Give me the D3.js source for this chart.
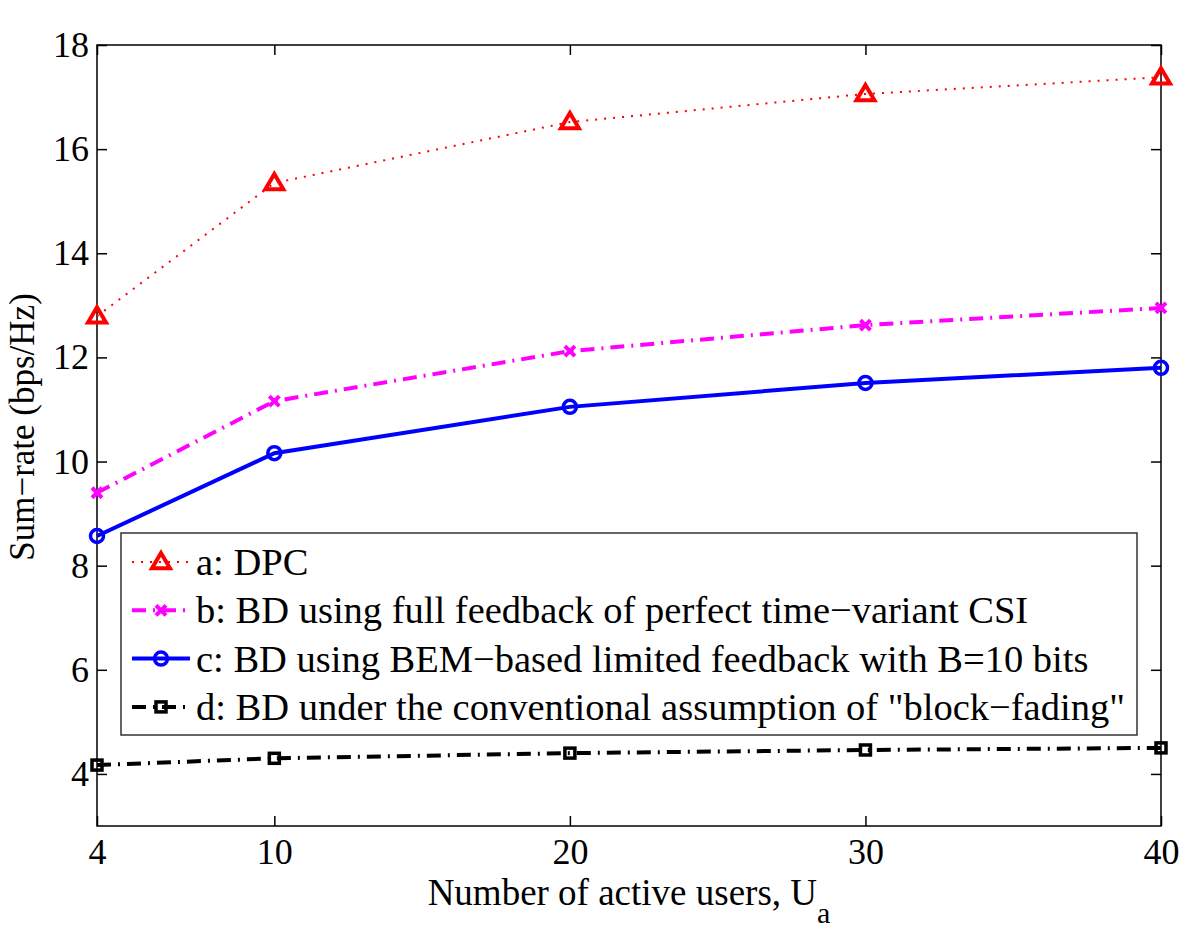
<!DOCTYPE html>
<html>
<head>
<meta charset="utf-8">
<script src="https://cdn.jsdelivr.net/npm/d3@7"></script>
<style>
  body { margin: 0; background: #fff; }
  text { font-family: "Liberation Serif", "Times New Roman", serif; fill: #000; }
</style>
</head>
<body>
<script>
const users = [4, 10, 20, 30, 40];
const dpc = [12.79, 15.35, 16.52, 17.06, 17.38];
const bdFull = [9.40, 11.16, 12.12, 12.62, 12.95];
const bdBem = [8.57, 10.16, 11.05, 11.51, 11.80];
const bdBlock = [4.17, 4.30, 4.40, 4.46, 4.50];
const xTicks = [4, 10, 20, 30, 40];
const yTicks = [4, 6, 8, 10, 12, 14, 16, 18];
const labels = [
  "a: DPC",
  "b: BD using full feedback of perfect time\u2212variant CSI",
  "c: BD using BEM\u2212based limited feedback with B=10 bits",
  "d: BD under the conventional assumption of \"block\u2212fading\""
];

const width = 1200, height = 939;
const margin = { top: 45, right: 39, bottom: 113, left: 97 };
const w = width - margin.left - margin.right;
const h = height - margin.top - margin.bottom;

const svg = d3.select("body").append("svg")
  .attr("width", width)
  .attr("height", height);

const x = d3.scaleLinear().domain([4, 40]).range([margin.left, margin.left + w]);
const y = d3.scaleLinear().domain([3, 18]).range([margin.top + h, margin.top]);

// series styles
const series = [
  { values: dpc, color: "#ff0000", width: 2, dash: "2,7", marker: "tri" },
  { values: bdFull, color: "#ff00ff", width: 4, dash: "14,7,2,7", marker: "x" },
  { values: bdBem, color: "#0000ff", width: 4, dash: null, marker: "circle" },
  { values: bdBlock, color: "#000000", width: 4, dash: "14,7,2,7", marker: "square" }
];

// axes box with inward ticks
const tickLen = 10;
const axisG = svg.append("g");
axisG.append("rect")
  .attr("x", margin.left).attr("y", margin.top)
  .attr("width", w).attr("height", h)
  .attr("fill", "none").attr("stroke", "#000").attr("stroke-width", 1.5);

axisG.append("g")
  .attr("transform", `translate(0,${margin.top + h})`)
  .call(d3.axisBottom(x).tickValues(xTicks).tickSize(-tickLen).tickPadding(12).tickFormat(d3.format("d")))
  .call(g => g.select(".domain").remove())
  .call(g => g.selectAll("text").attr("font-size", 36).style("font-family", "Liberation Serif"));
axisG.append("g")
  .attr("transform", `translate(0,${margin.top})`)
  .call(d3.axisTop(x).tickValues(xTicks).tickSize(-tickLen).tickFormat(""))
  .call(g => g.select(".domain").remove());
axisG.append("g")
  .attr("transform", `translate(${margin.left},0)`)
  .call(d3.axisLeft(y).tickValues(yTicks).tickSize(-tickLen).tickPadding(8).tickFormat(d3.format("d")))
  .call(g => g.select(".domain").remove())
  .call(g => g.selectAll("text").attr("font-size", 36).style("font-family", "Liberation Serif"));
axisG.append("g")
  .attr("transform", `translate(${margin.left + w},0)`)
  .call(d3.axisRight(y).tickValues(yTicks).tickSize(-tickLen).tickFormat(""))
  .call(g => g.select(".domain").remove());
axisG.selectAll(".tick line").attr("stroke", "#000").attr("stroke-width", 1.5);

// axis titles
const xt = svg.append("text")
  .attr("x", 629).attr("y", 905)
  .attr("text-anchor", "middle")
  .attr("font-size", 37);
xt.append("tspan").text("Number of active users, U");
xt.append("tspan").attr("font-size", 30).attr("dy", 18).text("a");

svg.append("text")
  .attr("transform", "translate(34,427) rotate(-90)")
  .attr("text-anchor", "middle")
  .attr("font-size", 35)
  .text("Sum\u2212rate (bps/Hz)");

function drawMarker(g, type, color, cx, cy) {
  if (type === "tri") {
    const s = 9;
    g.append("path")
      .attr("d", `M${cx},${cy - s}L${cx + s},${cy + s * 0.7}L${cx - s},${cy + s * 0.7}Z`)
      .attr("fill", "none").attr("stroke", color).attr("stroke-width", 4);
  } else if (type === "x") {
    const s = 5;
    g.append("path")
      .attr("d", `M${cx - s},${cy - s}L${cx + s},${cy + s}M${cx - s},${cy + s}L${cx + s},${cy - s}`)
      .attr("stroke", color).attr("stroke-width", 4);
  } else if (type === "circle") {
    g.append("circle").attr("cx", cx).attr("cy", cy).attr("r", 6.5)
      .attr("fill", "none").attr("stroke", color).attr("stroke-width", 3.5);
  } else if (type === "square") {
    g.append("rect").attr("x", cx - 5).attr("y", cy - 5).attr("width", 10).attr("height", 10)
      .attr("fill", "none").attr("stroke", color).attr("stroke-width", 3.5);
  }
}

const line = d3.line().x((d, i) => x(users[i])).y(d => y(d));
series.forEach(s => {
  const g = svg.append("g");
  g.append("path")
    .datum(s.values)
    .attr("d", line)
    .attr("fill", "none")
    .attr("stroke", s.color)
    .attr("stroke-width", s.width)
    .attr("stroke-dasharray", s.dash);
  s.values.forEach((v, i) => drawMarker(g, s.marker, s.color, x(users[i]), y(v)));
});

// legend
const lg = svg.append("g");
lg.append("rect")
  .attr("x", 121).attr("y", 533).attr("width", 1016).attr("height", 202)
  .attr("fill", "#fff").attr("stroke", "#333").attr("stroke-width", 1.5);
series.forEach((s, i) => {
  const cy = 562 + i * 48.3;
  lg.append("line")
    .attr("x1", 132).attr("x2", 190).attr("y1", cy).attr("y2", cy)
    .attr("stroke", s.color).attr("stroke-width", s.width)
    .attr("stroke-dasharray", s.dash);
  drawMarker(lg, s.marker, s.color, 161, cy);
  lg.append("text")
    .attr("x", 196).attr("y", cy + 13)
    .attr("font-size", 38.5)
    .text(labels[i]);
});
</script>
</body>
</html>
